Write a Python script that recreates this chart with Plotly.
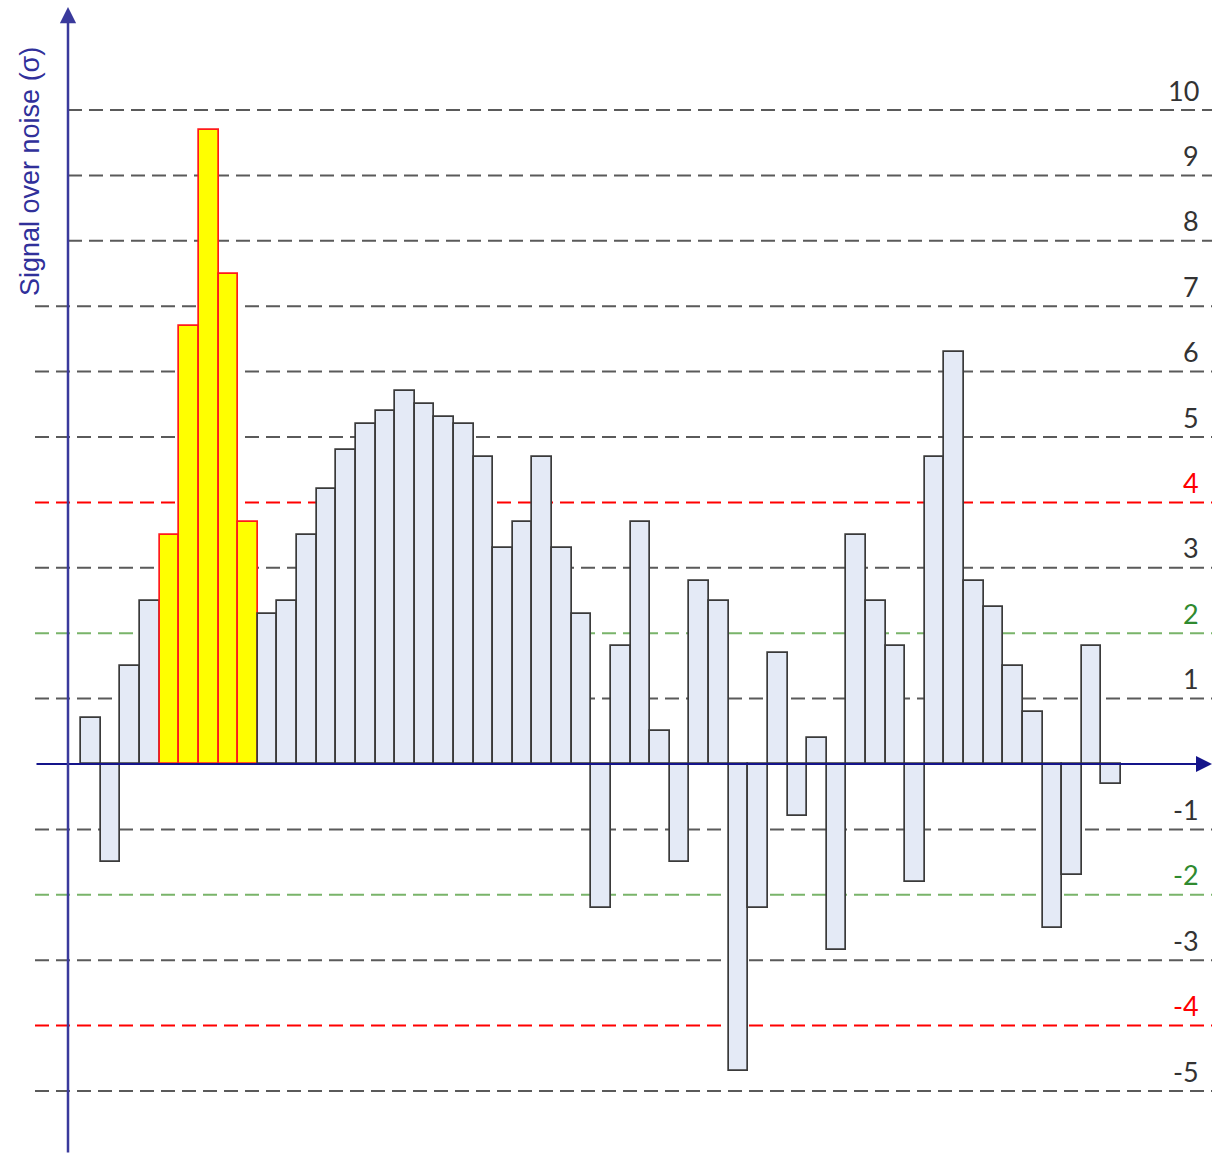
import plotly.graph_objects as go

# ---------------- data ----------------
values = [0.7, -1.5, 1.5, 2.5, 3.5, 6.7, 9.7, 7.5, 3.7, 2.3, 2.5, 3.5, 4.2, 4.8,
          5.2, 5.4, 5.7, 5.5, 5.3, 5.2, 4.7, 3.3, 3.7, 4.7, 3.3, 2.3, -2.2, 1.8,
          3.7, 0.5, -1.5, 2.8, 2.5, -4.7, -2.2, 1.7, -0.8, 0.4, -2.85, 3.5, 2.5,
          1.8, -1.8, 4.7, 6.3, 2.8, 2.4, 1.5, 0.8, -2.5, -1.7, 1.8, -0.3]
bins = list(range(len(values)))
highlighted = [4, 5, 6, 7, 8]

levels = [10, 9, 8, 7, 6, 5, 4, 3, 2, 1, -1, -2, -3, -4, -5]
level_labels = ["10", "9", "8", "7", "6", "5", "4", "3", "2", "1",
                "-1", "-2", "-3", "-4", "-5"]
y_title = "Signal over noise (σ)"

# ---------------- geometry (pixel <-> data) ----------------
W, H = 1212, 1154
X_PX0, X_UNIT = 81.2, 19.62      # left edge of first bar, px per bin
Y_PX0, Y_UNIT = 764.0, 65.4      # pixel row of value 0, px per sigma
AXIS_PX = 68

x_lo = -0.5 - X_PX0 / X_UNIT
x_hi = x_lo + W / X_UNIT
y_hi = Y_PX0 / Y_UNIT
y_lo = -(H - Y_PX0) / Y_UNIT


def xd(px):
    return x_lo + px / X_UNIT


def yd(py):
    return y_hi - py / Y_UNIT


GRAY_LINE = "#5a5a5a"
RED = "#ff0000"
GREEN_LINE = "#79b46a"
GREEN_TEXT = "#2f8a2f"


def level_style(v):
    if abs(v) == 4:
        return RED, RED
    if abs(v) == 2:
        return GREEN_LINE, GREEN_TEXT
    return GRAY_LINE, "#333333"


fill = ["#ffff00" if i in highlighted else "#e4eaf6" for i in bins]
edge = ["#ff1a1a" if i in highlighted else "#3a3a3a" for i in bins]

fig = go.Figure()
fig.add_trace(go.Bar(
    x=bins, y=values,
    marker=dict(color=fill, line=dict(color=edge, width=1.7)),
    width=1.0,
    hoverinfo="skip",
))

shapes = []
annotations = []
for v, lab in zip(levels, level_labels):
    lc, tc = level_style(v)
    start_px = AXIS_PX if v >= 8 else 35
    shapes.append(dict(
        type="line", xref="paper", yref="y",
        x0=start_px / W, x1=1.0, y0=v, y1=v,
        line=dict(color=lc, width=2, dash="14px,7px"),
        layer="below",
    ))
    annotations.append(dict(
        xref="paper", yref="y", x=1201 / W, y=v,
        xanchor="right", yanchor="middle", yshift=20,
        text=lab, showarrow=False,
        font=dict(family="Lato, Open Sans, sans-serif", size=27, color=tc),
    ))

# x axis with arrow (drawn above bars)
annotations.append(dict(
    xref="x", yref="y", x=xd(1212), y=0,
    ax=-(1212 - 35), ay=0, axref="pixel", ayref="pixel",
    text="", showarrow=True, arrowhead=2, arrowsize=1.6,
    arrowwidth=2, arrowcolor="#14148a",
))
# y axis with arrow
annotations.append(dict(
    xref="x", yref="y", x=xd(AXIS_PX), y=yd(7),
    ax=0, ay=H - 7 + 5, axref="pixel", ayref="pixel",
    text="", showarrow=True, arrowhead=2, arrowsize=1.3,
    arrowwidth=2.5, arrowcolor="#3a3a9c",
))
# y title
annotations.append(dict(
    xref="paper", yref="paper", x=30 / W, y=1 - 172 / H,
    xanchor="center", yanchor="middle", textangle=-90,
    text=y_title, showarrow=False,
    font=dict(family="Liberation Sans, Arial, sans-serif", size=27, color="#30309a"),
))

fig.update_layout(
    width=W, height=H,
    margin=dict(l=0, r=0, t=0, b=0),
    paper_bgcolor="white", plot_bgcolor="white",
    showlegend=False,
    bargap=0,
    xaxis=dict(range=[x_lo, x_hi], visible=False, fixedrange=True),
    yaxis=dict(range=[y_lo, y_hi], visible=False, fixedrange=True),
    shapes=shapes,
    annotations=annotations,
)

fig.write_html("out.html", config={"displayModeBar": False})
